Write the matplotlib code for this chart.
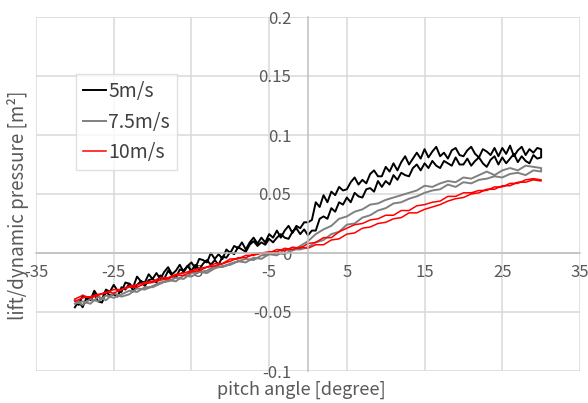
import numpy as np
import matplotlib
matplotlib.use('Agg')
import matplotlib.pyplot as plt

plt.rcParams['font.family'] = ['Noto Sans CJK JP', 'DejaVu Sans']

# pitch angle sweeps [degree]
angle_fine   = np.arange(-30, 30.01, 0.5)   # 5 m/s was logged more densely
angle_coarse = np.arange(-30, 30.01, 1.0)

# 5 m/s, two sweep directions
v5_a = [-0.040, -0.044, -0.036, -0.038, -0.040, -0.032, -0.037, -0.039, -0.031, -0.033,
        -0.027, -0.032, -0.033, -0.025, -0.026, -0.029, -0.020, -0.024, -0.025, -0.018,
        -0.022, -0.017, -0.022, -0.016, -0.012, -0.018, -0.015, -0.010, -0.016, -0.011,
        -0.008, -0.013, -0.005, -0.006, -0.008, 0.000, -0.005, -0.001, -0.005, 0.003,
        0.000, 0.006, 0.004, 0.009, 0.003, 0.009, 0.013, 0.008, 0.013, 0.009,
        0.016, 0.013, 0.019, 0.013, 0.019, 0.023, 0.017, 0.023, 0.021, 0.026,
        0.026, 0.028, 0.043, 0.039, 0.049, 0.043, 0.052, 0.049, 0.056, 0.053,
        0.054, 0.060, 0.064, 0.058, 0.062, 0.059, 0.067, 0.070, 0.065, 0.065,
        0.073, 0.069, 0.076, 0.070, 0.077, 0.082, 0.075, 0.080, 0.085, 0.080,
        0.088, 0.081, 0.086, 0.090, 0.082, 0.085, 0.080, 0.087, 0.089, 0.083,
        0.082, 0.087, 0.090, 0.084, 0.081, 0.088, 0.086, 0.083, 0.089, 0.082,
        0.089, 0.084, 0.091, 0.082, 0.087, 0.090, 0.083, 0.088, 0.085, 0.089,
        0.088]
v5_b = [-0.046, -0.041, -0.046, -0.038, -0.040, -0.035, -0.041, -0.042, -0.033, -0.036,
        -0.035, -0.037, -0.029, -0.031, -0.026, -0.032, -0.027, -0.024, -0.028, -0.023,
        -0.022, -0.025, -0.019, -0.022, -0.015, -0.019, -0.021, -0.014, -0.015, -0.011,
        -0.015, -0.010, -0.014, -0.009, -0.006, -0.010, -0.006, -0.010, -0.003, -0.004,
        0.001, -0.001, 0.005, 0.003, 0.001, 0.007, 0.010, 0.006, 0.009, 0.007,
        0.012, 0.009, 0.013, 0.016, 0.013, 0.012, 0.018, 0.021, 0.016, 0.020,
        0.015, 0.019, 0.019, 0.029, 0.031, 0.029, 0.038, 0.035, 0.043, 0.041,
        0.047, 0.043, 0.051, 0.048, 0.047, 0.054, 0.055, 0.052, 0.061, 0.056,
        0.061, 0.058, 0.066, 0.062, 0.068, 0.066, 0.065, 0.072, 0.075, 0.070,
        0.076, 0.072, 0.078, 0.074, 0.072, 0.078, 0.076, 0.074, 0.081, 0.075,
        0.075, 0.080, 0.074, 0.078, 0.081, 0.076, 0.073, 0.079, 0.082, 0.075,
        0.081, 0.076, 0.080, 0.084, 0.077, 0.082, 0.078, 0.076, 0.083, 0.080,
        0.081]

# 7.5 m/s
v75_a = [-0.043, -0.041, -0.043, -0.037, -0.040, -0.034, -0.037, -0.035, -0.030, -0.031,
         -0.028, -0.025, -0.024, -0.021, -0.022, -0.017, -0.016, -0.015, -0.011, -0.012,
         -0.009, -0.007, -0.005, -0.006, -0.002, -0.001, -0.002, 0.003, 0.002, 0.006,
         0.010, 0.016, 0.020, 0.023, 0.029, 0.031, 0.035, 0.037, 0.041, 0.042,
         0.045, 0.047, 0.049, 0.051, 0.053, 0.057, 0.056, 0.059, 0.061, 0.060,
         0.064, 0.063, 0.066, 0.069, 0.066, 0.070, 0.072, 0.070, 0.074, 0.073,
         0.072]
v75_b = [-0.040, -0.044, -0.039, -0.041, -0.036, -0.038, -0.035, -0.032, -0.033, -0.029,
         -0.029, -0.026, -0.023, -0.024, -0.019, -0.020, -0.016, -0.017, -0.013, -0.011,
         -0.010, -0.007, -0.008, -0.004, -0.005, -0.001, 0.000, -0.001, 0.003, 0.003,
         0.005, 0.009, 0.011, 0.016, 0.018, 0.024, 0.025, 0.030, 0.032, 0.036,
         0.038, 0.042, 0.043, 0.046, 0.048, 0.051, 0.053, 0.054, 0.058, 0.056,
         0.060, 0.059, 0.062, 0.063, 0.065, 0.064, 0.067, 0.068, 0.066, 0.070,
         0.069]

# 10 m/s
v10_a = [-0.039, -0.036, -0.038, -0.036, -0.033, -0.034, -0.031, -0.029, -0.029, -0.026,
         -0.025, -0.023, -0.022, -0.019, -0.019, -0.016, -0.015, -0.012, -0.011, -0.009,
         -0.007, -0.004, -0.004, -0.001, 0.000, 0.000, 0.003, 0.002, 0.005, 0.004,
         0.008, 0.009, 0.013, 0.013, 0.018, 0.021, 0.024, 0.025, 0.028, 0.029,
         0.032, 0.032, 0.036, 0.036, 0.040, 0.041, 0.043, 0.044, 0.048, 0.048,
         0.051, 0.051, 0.053, 0.053, 0.056, 0.056, 0.059, 0.059, 0.062, 0.063,
         0.062]
v10_b = [-0.041, -0.038, -0.037, -0.035, -0.034, -0.031, -0.031, -0.028, -0.027, -0.025,
         -0.024, -0.021, -0.021, -0.018, -0.017, -0.015, -0.013, -0.012, -0.009, -0.009,
         -0.005, -0.005, -0.002, -0.002, 0.000, 0.001, 0.001, 0.004, 0.003, 0.005,
         0.004, 0.007, 0.007, 0.011, 0.012, 0.016, 0.017, 0.021, 0.022, 0.025,
         0.026, 0.029, 0.030, 0.034, 0.034, 0.037, 0.039, 0.041, 0.044, 0.046,
         0.047, 0.050, 0.051, 0.054, 0.054, 0.057, 0.057, 0.060, 0.060, 0.062,
         0.061]

labels = ['5m/s', '7.5m/s', '10m/s']
colors = ['black', '#808080', 'red']

x_ticks = np.arange(-35, 36, 10)
y_ticks = [-0.1, -0.05, 0, 0.05, 0.1, 0.15, 0.2]
y_ticklabels = ['-0.1', '-0.05', '0', '0.05', '0.1', '0.15', '0.2']

def loop(x, up, down):
    # go out along one sweep and come back along the other
    return np.concatenate([x, x[::-1]]), np.concatenate([up, down[::-1]])

fig = plt.figure(figsize=(5.88, 4.03), dpi=100)
ax = fig.add_axes([36/588, 1-371/403, 544/588, 354/403])

series = [(angle_fine, v5_a, v5_b), (angle_coarse, v75_a, v75_b), (angle_coarse, v10_a, v10_b)]
widths = [1.4, 1.4, 1.1]
for (x, a, b), lab, c, w in zip(series, labels, colors, widths):
    xx, yy = loop(x, np.array(a), np.array(b))
    ax.plot(xx, yy, color=c, lw=w, label=lab)

ax.set_xlim(-35, 35)
ax.set_ylim(-0.1, 0.2)
ax.set_xticks(x_ticks)
ax.set_xticklabels([str(t) for t in x_ticks])
ax.set_yticks(y_ticks)
ax.set_yticklabels(y_ticklabels)
ax.grid(True, color='#d9d9d9', lw=1.1)
ax.set_axisbelow(True)

ax.spines['left'].set_position(('data', 0))
ax.spines['bottom'].set_position(('data', 0))
ax.spines['top'].set_visible(False)
ax.spines['right'].set_visible(False)
for s in ['left', 'bottom']:
    ax.spines[s].set_color('#bfbfbf')
    ax.spines[s].set_linewidth(1.1)
ax.tick_params(axis='both', length=0, labelsize=12, labelcolor='#595959')
ax.tick_params(axis='x', pad=8)
ax.tick_params(axis='y', pad=12)

leg = ax.legend(loc='upper left', bbox_to_anchor=((76-36)/544, (371-74)/354), borderaxespad=0,
                fontsize=14, frameon=True, fancybox=False, handlelength=1.2, handletextpad=0.12,
                labelspacing=0.5, borderpad=0.35, labelcolor='#404040')
leg.get_frame().set_edgecolor('#d9d9d9')
leg.get_frame().set_linewidth(1.0)

fig.text(18/588, 1-205/403, 'lift/dynamic pressure [m²]', rotation=90, ha='center', va='center',
         fontsize=13.5, color='#595959')
fig.text(301/588, 1-390/403, 'pitch angle [degree]', ha='center', va='center',
         fontsize=13, color='#595959')

fig.savefig('out.png', dpi=100)
